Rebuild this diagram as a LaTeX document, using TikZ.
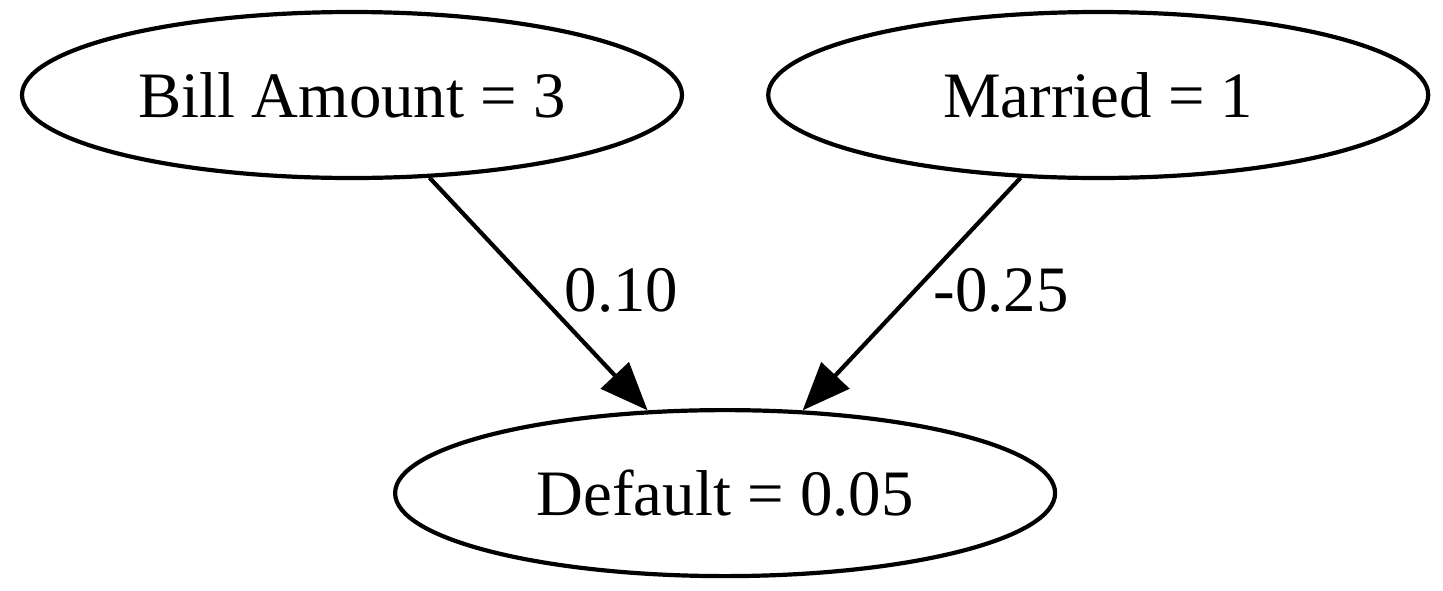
\documentclass[tikz,border=0pt]{standalone}
\usepackage{fontspec}
\setmainfont{Liberation Serif}
\usetikzlibrary{arrows.meta,positioning,shapes.geometric,calc}

\begin{document}
\begin{tikzpicture}[x=0.25pt,y=-0.25pt,->,>={Triangle[length=12pt,width=9.5pt]},
    line width=1.05pt,main node/.style={ellipse,draw,inner sep=0pt,
    minimum width=165pt,minimum height=41.5pt,font=\fontsize{16.2}{19}\selectfont},
    weight/.style={anchor=west,inner sep=0pt,font=\fontsize{16.2}{19}\selectfont}]
    \useasboundingbox (0,0) rectangle (1443,590);
    \node[main node] (1) at (352,95) {Bill Amount = 3};
    \node[main node] (2) [right=20.5pt of 1] {Married = 1};
    \coordinate (12) at ($(1)!0.5!(2)$);
    \node[main node] (3) [below=78.25pt of 12,anchor=north] {Default = 0.05};

    \path
      (1) edge node[weight,midway,xshift=6pt,yshift=1pt] {0.10} (3)
      (2) edge node[weight,midway,xshift=5pt,yshift=1pt] {-0.25} (3);
  \end{tikzpicture}
\end{document}
